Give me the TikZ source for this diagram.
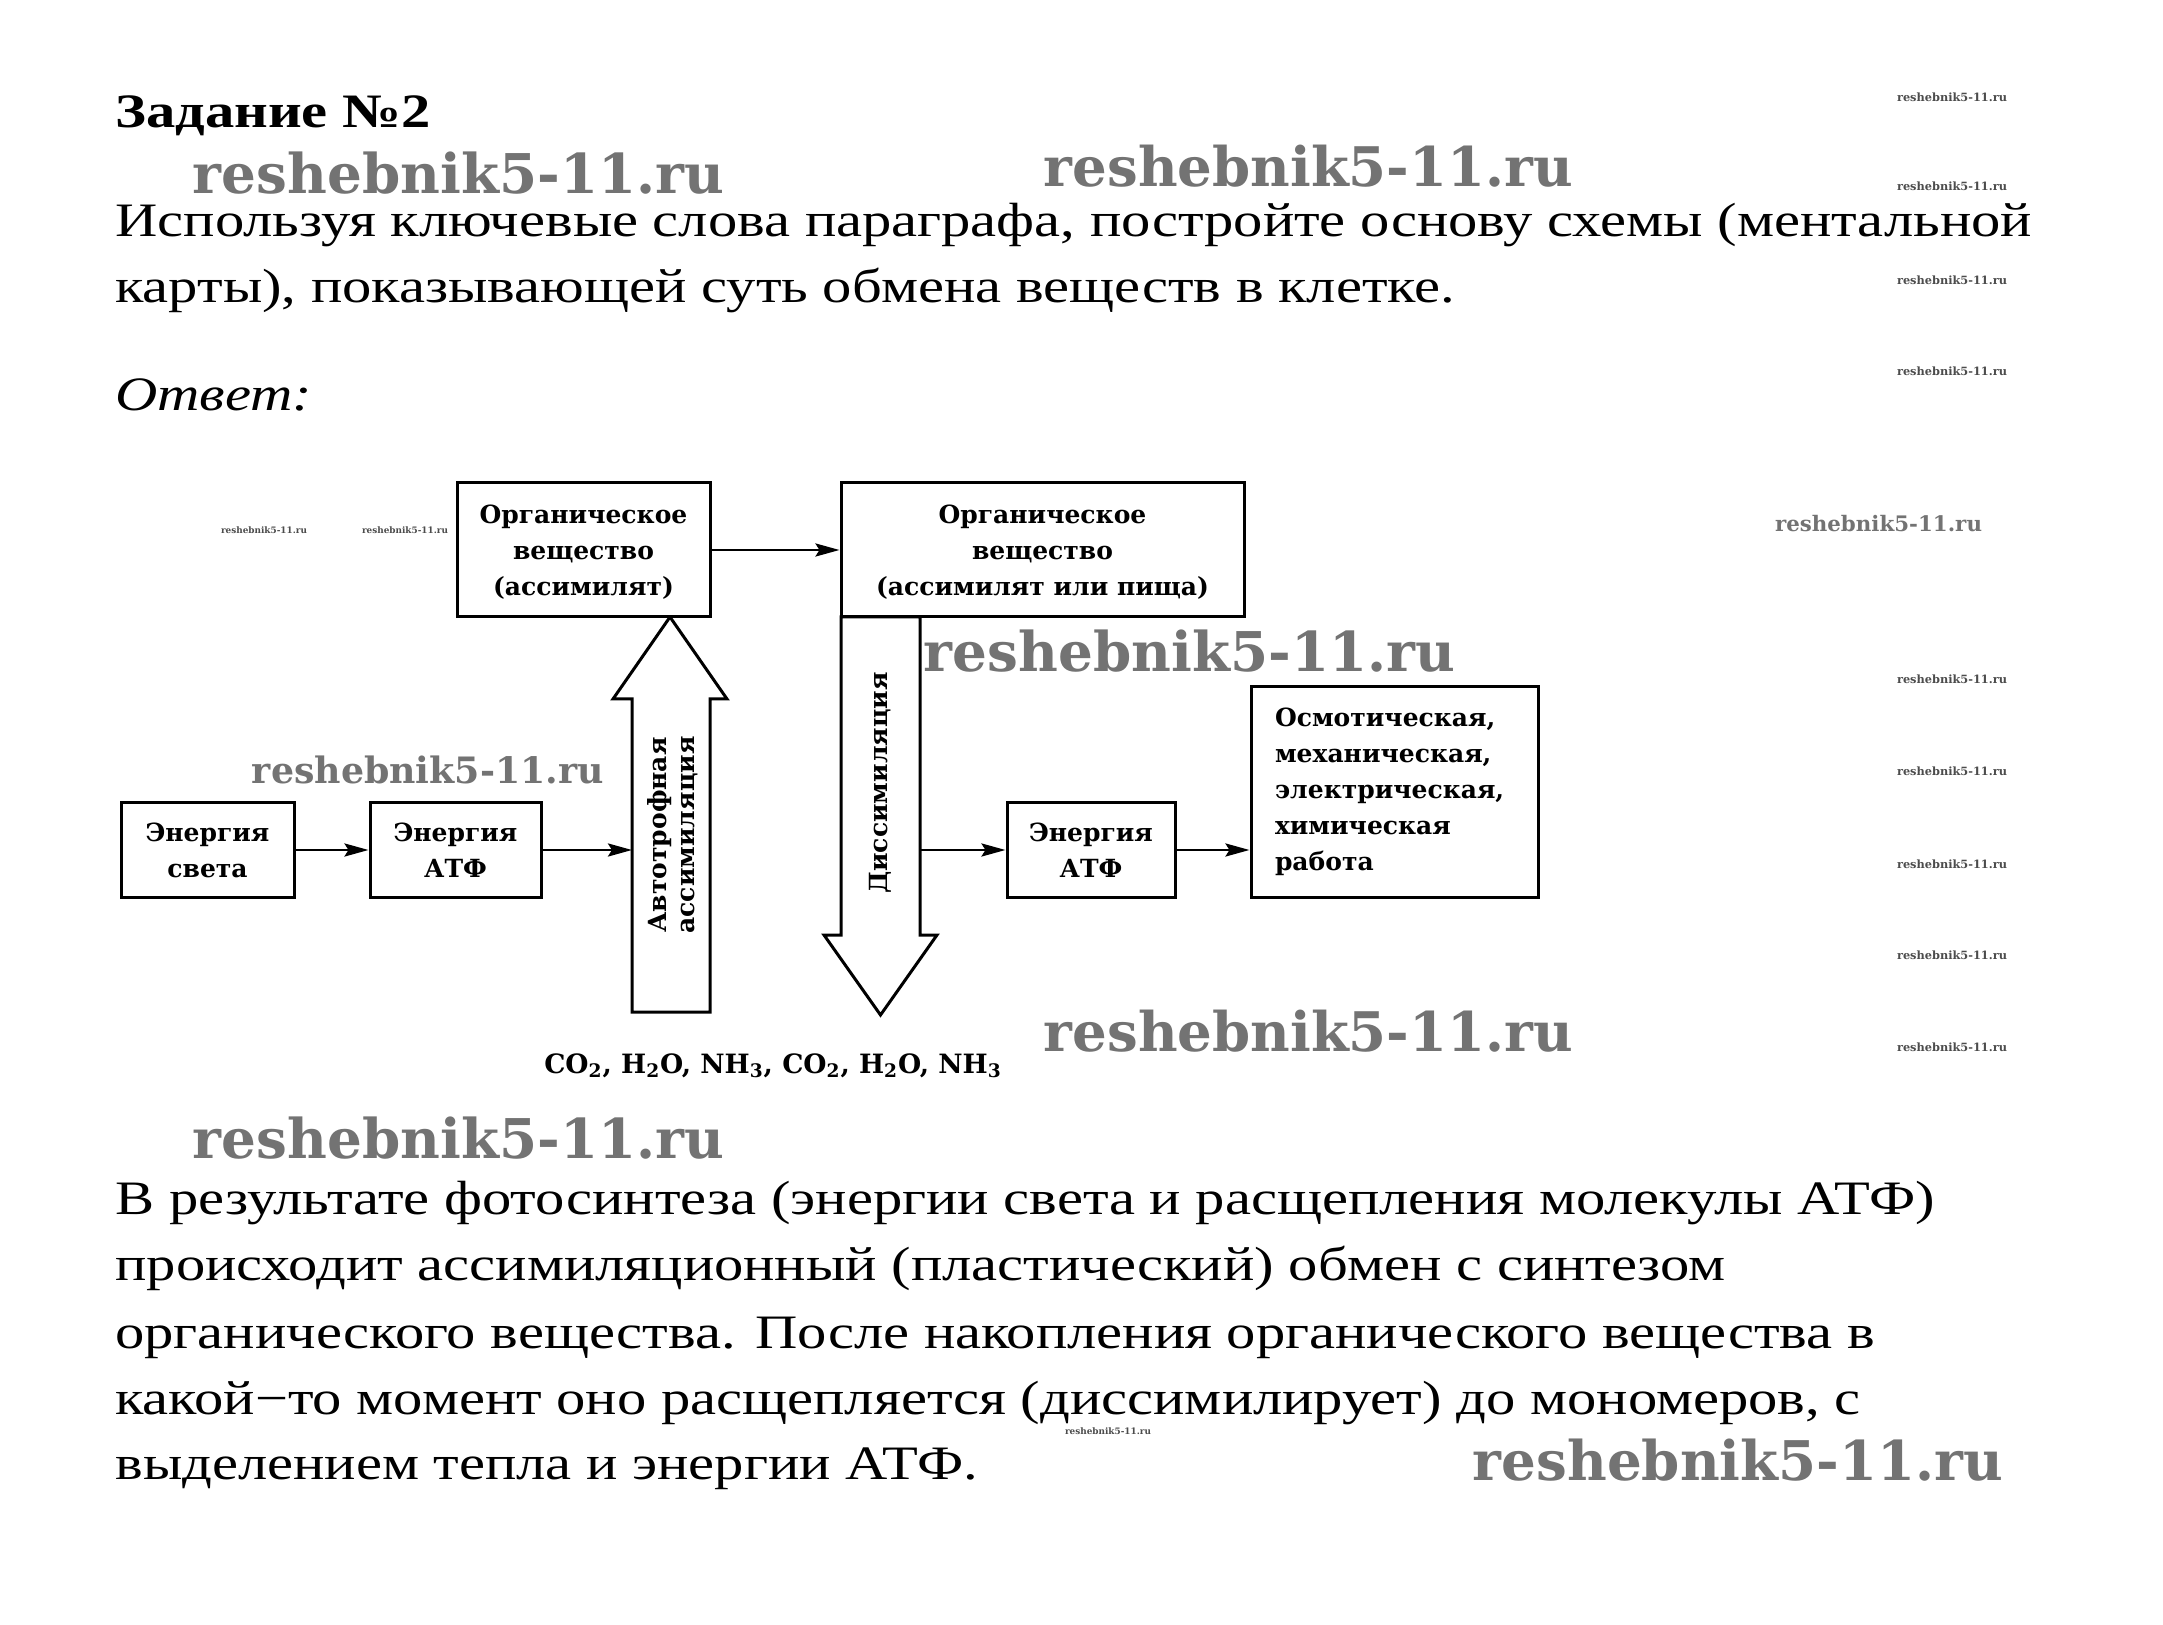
\documentclass[tikz,border=0pt]{standalone}
\usepackage{fontspec}
\usepackage{graphicx}
\setmainfont{Liberation Serif}[FakeStretch=1.22]
\newfontfamily\dgfont{DejaVu Serif}
\newfontfamily\wmfont{DejaVu Serif}
\usetikzlibrary{arrows.meta}
\newcommand{\wmtext}[1]{\resizebox{#1pt}{!}{\wmfont\bfseries reshebnik5-11.ru}}
\tikzset{
  box/.style={draw, line width=1.5pt, fill=white, align=center, inner sep=0pt,
    font=\dgfont\bfseries\fontsize{12.5}{18}\selectfont},
  conn/.style={line width=1.4pt, -{Stealth[length=12pt,width=6.5pt,inset=2pt]}},
  bigarrow/.style={draw, line width=1.5pt, fill=white, line join=miter},
  rottext/.style={rotate=90, align=center, inner sep=0pt,
    font=\dgfont\bfseries\fontsize{12.5}{14}\selectfont},
  body/.style={anchor=base west, inner sep=0pt, font=\fontsize{24}{27}\selectfont},
  wm/.style={text=black!55, inner sep=0pt},
  wms/.style={text=black!70, inner sep=0pt},
}
\begin{document}
\begin{tikzpicture}[x=0.5pt,y=-0.5pt]
\useasboundingbox[fill=white] (0,0) rectangle (2163,1625);

% ---- text above ----
\node[body, font=\bfseries\fontsize{24}{27}\selectfont] (title) at (115,128) {Задание №2};
\node[body] (q1) at (115,237) {Используя ключевые слова параграфа, постройте основу схемы (ментальной};
\node[body] (q2) at (115,303) {карты), показывающей суть обмена веществ в клетке.};
\node[body, font=\itshape\fontsize{24}{27}\selectfont] (ans) at (115,411) {Ответ:};

% ---- big arrows ----
\draw[bigarrow] (632,1012) -- (632,699) -- (613,699) -- (670,617) -- (727,699) -- (710,699) -- (710,1012) -- cycle;
\draw[bigarrow] (841,617) -- (841,935) -- (824,935) -- (880.5,1015) -- (937,935) -- (920,935) -- (920,617) -- cycle;
\coordinate (upL) at (632,850);
\coordinate (dnR) at (920,850);

% ---- boxes ----
\node[box, minimum width=126.5pt, minimum height=67pt, text depth=-1.5pt] (org1) at (583.5,550) {Органическое\\вещество\\(ассимилят)};
\node[box, minimum width=201.5pt, minimum height=67pt, text depth=-1.5pt] (org2) at (1042.5,550) {Органическое\\вещество\\(ассимилят или пища)};
\node[box, minimum width=86.5pt, minimum height=47pt] (light) at (207.5,850) {Энергия\\света};
\node[box, minimum width=85.5pt, minimum height=47pt] (atf1) at (455.5,850) {Энергия\\АТФ};
\node[box, minimum width=84pt, minimum height=47pt] (atf2) at (1091,850) {Энергия\\АТФ};
\node[box, align=left, inner xsep=12pt, text width=119.5pt, minimum height=105pt] (osm) at (1394.5,792)
  {Осмотическая,\\механическая,\\электрическая,\\химическая\\работа};

% ---- rotated labels ----
\node[rottext] (auto) at (673,835) {Автотрофная\\ассимиляция};
\node[rottext] (diss) at (880,783) {Диссимиляция};

% ---- chemistry ----
\node[inner sep=0pt, font=\dgfont\bfseries\fontsize{13.3}{15}\selectfont] (chem) at (773,1066)
  {CO\textsubscript{2}, H\textsubscript{2}O, NH\textsubscript{3}, CO\textsubscript{2}, H\textsubscript{2}O, NH\textsubscript{3}};

% ---- connectors ----
\draw[conn] (org1) -- (org2);
\draw[conn] (light) -- (atf1);
\draw[conn] (atf1) -- (upL);
\draw[conn] (dnR) -- (atf2);
\draw[conn] (atf2.east) -- (atf2.east -| osm.west);

% ---- text below ----
\node[body] (b1) at (115,1214) {В результате фотосинтеза (энергии света и расщепления молекулы АТФ)};
\node[body] (b2) at (115,1280) {происходит ассимиляционный (пластический) обмен с синтезом};
\node[body] (b3) at (115,1348) {органического вещества. После накопления органического вещества в};
\node[body] (b4) at (115,1414) {какой−то момент оно расщепляется (диссимилирует) до мономеров, с};
\node[body] (b5) at (115,1479) {выделением тепла и энергии АТФ.};

% ---- watermarks ----
\node[wm] (w1) at (458.5,173) {\wmtext{265.5}};
\node[wm] (w2) at (1308.5,166) {\wmtext{264.5}};
\node[wm] (w3) at (1189.5,651) {\wmtext{265.5}};
\node[wm] (w4) at (428,770) {\wmtext{176}};
\node[wm] (w5) at (1308.5,1031) {\wmtext{264.5}};
\node[wm] (w6) at (458.5,1138) {\wmtext{265.5}};
\node[wm] (w7) at (1738,1460) {\wmtext{265}};
\node[wm] (w8) at (1878.5,524) {\wmtext{103.5}};
\node[wms] (s1) at (1952,97) {\wmtext{55}};
\node[wms] (s2) at (1952,186) {\wmtext{55}};
\node[wms] (s3) at (1952,280) {\wmtext{55}};
\node[wms] (s4) at (1952,371) {\wmtext{55}};
\node[wms] (s5) at (1952,679) {\wmtext{55}};
\node[wms] (s6) at (1952,771) {\wmtext{55}};
\node[wms] (s7) at (1952,864) {\wmtext{55}};
\node[wms] (s8) at (1952,955) {\wmtext{55}};
\node[wms] (s9) at (1952,1047) {\wmtext{55}};
\node[wms] (s10) at (264,530) {\wmtext{43}};
\node[wms] (s11) at (405,530) {\wmtext{43}};
\node[wms] (s12) at (1108,1431) {\wmtext{43}};
\end{tikzpicture}
\end{document}
